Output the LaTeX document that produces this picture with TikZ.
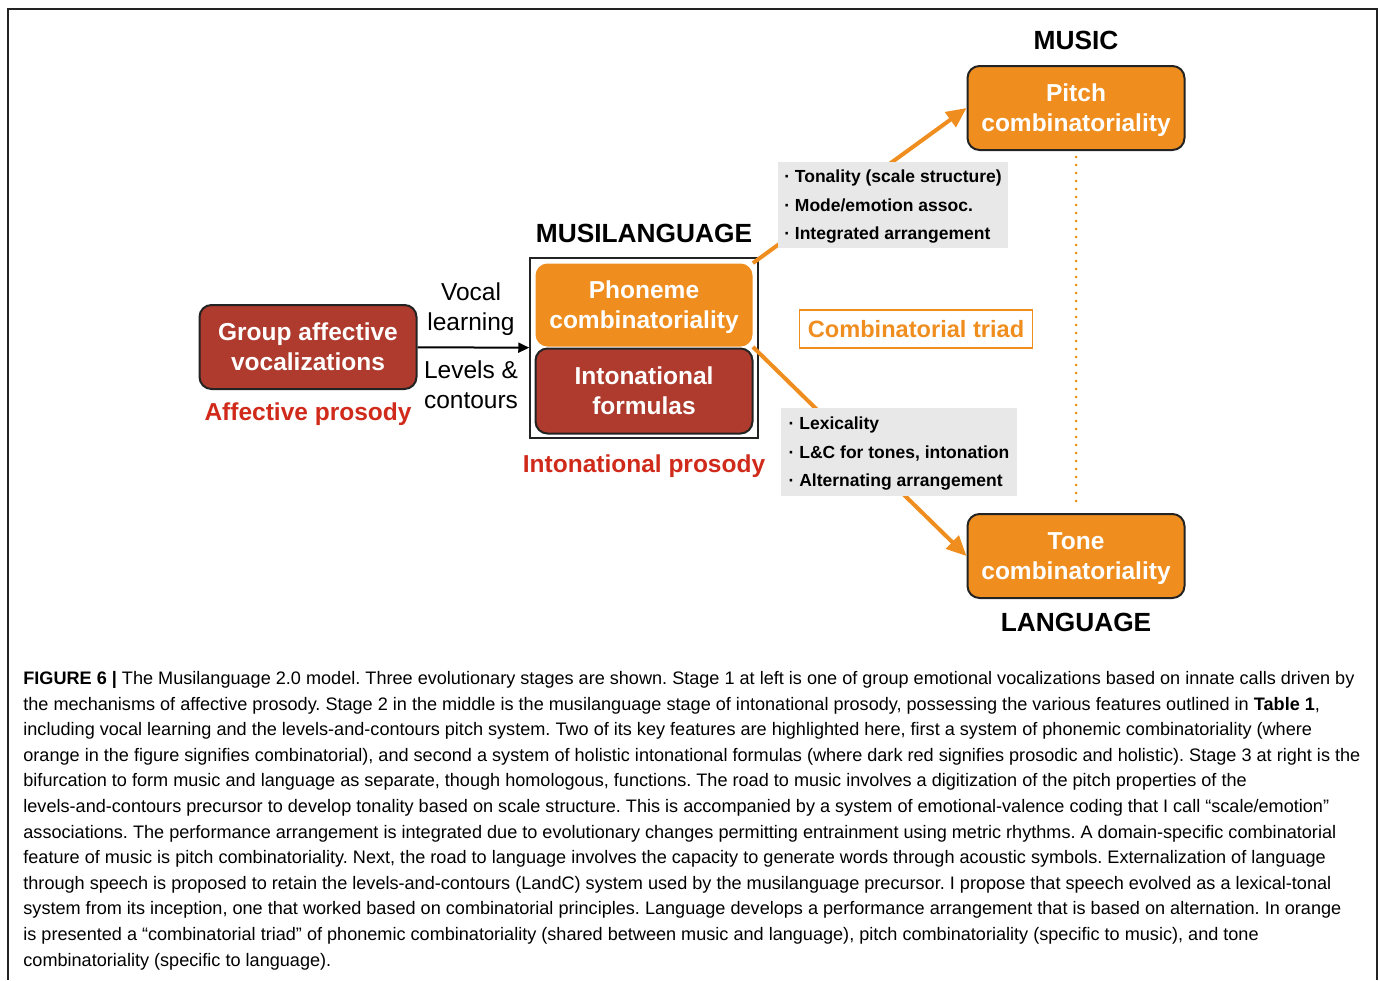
\documentclass[tikz,border=0pt]{standalone}
\usepackage{fontspec}
\setmainfont{Liberation Sans}
\usetikzlibrary{arrows.meta,positioning}

\definecolor{boxred}{RGB}{174,59,45}
\definecolor{boxorange}{RGB}{239,142,31}
\definecolor{labelred}{RGB}{208,42,26}
\definecolor{featgray}{RGB}{232,232,232}
\definecolor{boxline}{RGB}{35,35,35}

\begin{document}
\begin{tikzpicture}[x=1pt,y=-1pt,thick,
            stage node/.style={rounded corners=12pt,minimum width=217pt,minimum height=84pt,
                align=center,text=white,text depth=0pt,font=\bfseries\fontsize{24.5}{30}\selectfont},
            red node/.style={stage node,fill=boxred,draw=boxline,line width=2pt},
            orange node/.style={stage node,fill=boxorange,draw=boxline,line width=2pt},
            head node/.style={font=\bfseries\fontsize{26.3}{30}\selectfont},
            prosody node/.style={text=labelred,font=\bfseries\fontsize{24.5}{30}\selectfont},
            plain node/.style={align=center,text depth=0pt,font=\fontsize{24.5}{30}\selectfont},
            feature node/.style={fill=featgray,align=left,text depth=0pt,
                font=\bfseries\fontsize{17.5}{28.5}\selectfont},
            road/.style={boxorange,line width=4pt,-{Triangle[length=20pt,width=18pt]}}]

        \useasboundingbox (0,0) rectangle (1380,980);
        \draw[boxline,line width=1.5pt] (8,980) -- (8,9) -- (1377,9) -- (1377,980);

        % Define vertices
        \node[red node] (group) at (308,347) {Group affective\\vocalizations};
        \node[prosody node] (aff) [below of=group,node distance=67pt] {Affective prosody};
        \node[draw=boxline,line width=1.5pt,minimum width=228pt,minimum height=180pt] (musil) at (644,348) {};
        \node[head node] (musilhead) [above of=musil,node distance=115pt] {MUSILANGUAGE};
        \node[stage node,fill=boxorange,minimum height=83pt] (phon) at (644,305) {Phoneme\\combinatoriality};
        \node[red node,minimum height=85pt] (inton) at (644,391) {Intonational\\formulas};
        \node[prosody node] (intpros) [below of=inton,node distance=75pt] {Intonational prosody};
        \node[plain node] (vocal) at (471,307) {Vocal\\learning};
        \node[plain node] (levels) at (471,385) {Levels \&\\contours};
        \node[orange node] (pitch) at (1076,108) {Pitch\\combinatoriality};
        \node[head node] (music) [above of=pitch,node distance=68pt] {MUSIC};
        \node[orange node] (tone) at (1076,556) {Tone\\combinatoriality};
        \node[head node] (lang) [below of=tone,node distance=66pt] {LANGUAGE};
        \node[draw=boxorange,line width=1.5pt,minimum width=233pt,minimum height=38pt,text=boxorange,
            font=\bfseries\fontsize{23.6}{28}\selectfont] (triad) at (916,329) {Combinatorial triad};

        % Draw edges
        \path[black,line width=2pt,-{Triangle[length=11pt,width=10pt]}]
            (group) edge (musil);
        \path[road]
            (phon.north east) edge (pitch.west)
            (phon.south east) edge (tone.west);
        \draw[boxorange,line width=3pt,line cap=round,dash pattern=on 0pt off 8pt,
            shorten <=6pt,shorten >=6pt] (pitch) -- (tone);

        % Features along the roads
        \node[feature node,minimum width=230pt,minimum height=86pt] (musicfeat) at (893,205)
            {· Tonality (scale structure)\\· Mode/emotion assoc.\\· Integrated arrangement};
        \node[feature node,minimum width=236pt,minimum height=88pt] (langfeat) at (899,452)
            {· Lexicality\\· L\&C for tones, intonation\\· Alternating arrangement};

        % Caption
        \node[anchor=north west,align=left,inner sep=0pt,font=\frenchspacing\fontsize{18.1}{25.6}\selectfont] (caption) at (23,671)
            {\textbf{FIGURE 6 |} The Musilanguage 2.0 model. Three evolutionary stages are shown. Stage 1 at left is one of group emotional vocalizations based on innate calls driven by\\
            the mechanisms of affective prosody. Stage 2 in the middle is the musilanguage stage of intonational prosody, possessing the various features outlined in \textbf{Table 1},\\
            including vocal learning and the levels-and-contours pitch system. Two of its key features are highlighted here, first a system of phonemic combinatoriality (where\\
            orange in the figure signifies combinatorial), and second a system of holistic intonational formulas (where dark red signifies prosodic and holistic). Stage 3 at right is the\\
            bifurcation to form music and language as separate, though homologous, functions. The road to music involves a digitization of the pitch properties of the\\
            levels-and-contours precursor to develop tonality based on scale structure. This is accompanied by a system of emotional-valence coding that I call “scale/emotion”\\
            associations. The performance arrangement is integrated due to evolutionary changes permitting entrainment using metric rhythms. A domain-specific combinatorial\\
            feature of music is pitch combinatoriality. Next, the road to language involves the capacity to generate words through acoustic symbols. Externalization of language\\
            through speech is proposed to retain the levels-and-contours (LandC) system used by the musilanguage precursor. I propose that speech evolved as a lexical-tonal\\
            system from its inception, one that worked based on combinatorial principles. Language develops a performance arrangement that is based on alternation. In orange\\
            is presented a “combinatorial triad” of phonemic combinatoriality (shared between music and language), pitch combinatoriality (specific to music), and tone\\
            combinatoriality (specific to language).};

\end{tikzpicture}
\end{document}
